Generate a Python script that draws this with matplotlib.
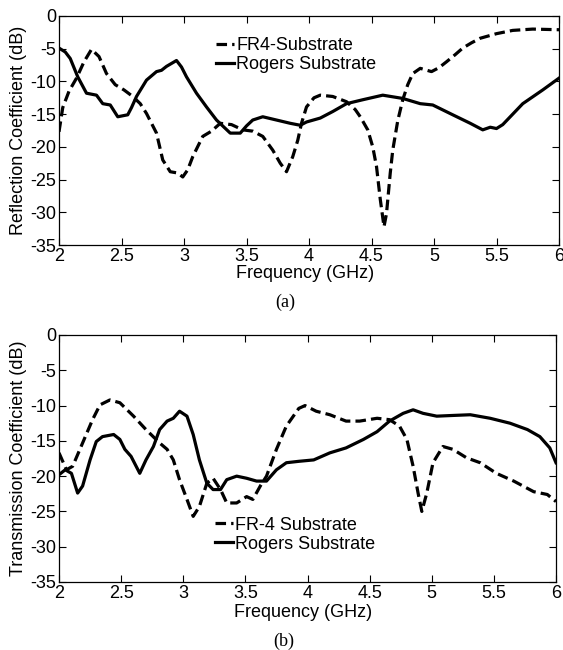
import matplotlib.pyplot as plt
import numpy as np

# (a) reflection coefficient
f_fr4_a = [2.00, 2.03, 2.08, 2.14, 2.20, 2.26, 2.32, 2.38, 2.45, 2.52, 2.59, 2.65, 2.70, 2.78,
           2.83, 2.89, 2.95, 2.99, 3.03, 3.07, 3.15, 3.22, 3.29, 3.38, 3.47, 3.55, 3.63, 3.71,
           3.77, 3.82, 3.87, 3.91, 3.94, 3.98, 4.04, 4.09, 4.19, 4.30, 4.37, 4.41, 4.47, 4.51,
           4.54, 4.57, 4.60, 4.62, 4.65, 4.67, 4.71, 4.75, 4.79, 4.83, 4.89, 4.98, 5.04, 5.10,
           5.17, 5.23, 5.30, 5.37, 5.50, 5.63, 5.79, 6.00]
r_fr4_a = [-17.7, -14.0, -11.5, -9.5, -7.0, -5.1, -6.2, -8.8, -10.5, -11.3, -12.3, -13.4, -14.9,
           -17.9, -22.0, -23.8, -24.0, -24.6, -23.5, -21.5, -18.4, -17.6, -16.4, -16.6, -17.4,
           -17.6, -18.4, -20.5, -22.5, -23.8, -21.5, -19.0, -16.4, -13.9, -12.5, -12.1, -12.3,
           -13.1, -14.3, -15.4, -17.4, -20.0, -23.0, -28.0, -32.2, -30.2, -24.0, -20.5, -16.0,
           -12.8, -10.5, -8.8, -8.0, -8.5, -7.9, -7.0, -5.9, -4.9, -4.1, -3.4, -2.7, -2.2, -2.0,
           -2.1]

f_rog_a = [2.00, 2.05, 2.09, 2.15, 2.22, 2.30, 2.35, 2.41, 2.47, 2.55, 2.58, 2.62, 2.70, 2.78,
           2.82, 2.86, 2.94, 2.98, 3.02, 3.10, 3.18, 3.26, 3.37, 3.45, 3.50, 3.55, 3.63, 3.74,
           3.85, 3.93, 3.98, 4.09, 4.19, 4.30, 4.43, 4.59, 4.75, 4.89, 4.99, 5.15, 5.29, 5.39,
           5.45, 5.50, 5.55, 5.61, 5.71, 5.87, 6.00]
r_rog_a = [-4.9, -5.5, -6.5, -9.3, -11.8, -12.1, -13.4, -13.6, -15.4, -15.1, -14.0, -12.3, -9.8,
           -8.5, -8.3, -7.7, -6.8, -7.8, -9.3, -11.8, -13.9, -15.9, -17.9, -17.9, -16.8, -15.9,
           -15.4, -15.9, -16.4, -16.7, -16.2, -15.6, -14.6, -13.4, -12.8, -12.1, -12.6, -13.4,
           -13.6, -15.1, -16.4, -17.4, -17.0, -17.2, -16.6, -15.4, -13.4, -11.3, -9.5]

# (b) transmission coefficient
f_fr4_b = [2.00, 2.06, 2.11, 2.19, 2.27, 2.33, 2.41, 2.49, 2.60, 2.70, 2.81, 2.87, 2.92, 2.97,
           3.03, 3.08, 3.13, 3.19, 3.24, 3.30, 3.35, 3.43, 3.51, 3.56, 3.62, 3.67, 3.75, 3.83,
           3.93, 3.98, 4.07, 4.18, 4.31, 4.42, 4.56, 4.66, 4.74, 4.80, 4.85, 4.89, 4.92, 4.96,
           5.01, 5.09, 5.17, 5.28, 5.39, 5.52, 5.66, 5.82, 5.93, 6.00]
t_fr4_b = [-16.7, -19.1, -18.6, -15.3, -12.0, -9.9, -9.2, -9.6, -11.5, -13.4, -15.3, -16.2, -17.7,
           -20.5, -23.3, -25.7, -24.3, -21.0, -20.3, -21.9, -23.8, -23.8, -22.9, -23.3, -21.4,
           -20.0, -16.2, -12.9, -10.4, -10.0, -10.8, -11.3, -12.2, -12.2, -11.8, -12.0, -12.9,
           -14.8, -18.6, -22.4, -25.0, -22.4, -18.1, -15.8, -16.2, -17.4, -18.1, -19.6, -20.7,
           -22.2, -22.6, -23.6]

f_rog_b = [2.00, 2.05, 2.10, 2.15, 2.19, 2.25, 2.30, 2.35, 2.44, 2.49, 2.53, 2.58, 2.65, 2.70,
           2.76, 2.81, 2.87, 2.92, 2.97, 3.03, 3.08, 3.13, 3.19, 3.24, 3.30, 3.35, 3.43, 3.51,
           3.59, 3.67, 3.75, 3.83, 3.93, 4.05, 4.18, 4.31, 4.45, 4.56, 4.66, 4.77, 4.85, 4.93,
           5.04, 5.17, 5.31, 5.47, 5.63, 5.77, 5.87, 5.95, 6.00]
t_rog_b = [-19.8, -19.1, -19.6, -22.4, -21.4, -17.7, -15.1, -14.4, -14.1, -14.8, -16.2, -17.2,
           -19.6, -17.7, -15.8, -13.4, -12.2, -11.8, -10.8, -11.5, -14.1, -17.7, -21.0, -21.9,
           -21.9, -20.5, -20.0, -20.3, -20.7, -20.7, -19.1, -18.1, -17.9, -17.7, -16.7, -16.0,
           -14.8, -13.7, -12.2, -11.1, -10.6, -11.1, -11.5, -11.4, -11.3, -11.8, -12.5, -13.4,
           -14.4, -16.0, -18.1]

xticks = [2, 2.5, 3, 3.5, 4, 4.5, 5, 5.5, 6]
xticklabels = ['2', '2.5', '3', '3.5', '4', '4.5', '5', '5.5', '6']
yticks = [-35, -30, -25, -20, -15, -10, -5, 0]

plt.rcParams['font.family'] = ['Liberation Sans', 'DejaVu Sans']
plt.rcParams['axes.unicode_minus'] = False

W, H = 563, 650
fig = plt.figure(figsize=(W / 100, H / 100), dpi=100)


def make_axes(left, top, right, bottom):
    return fig.add_axes([left / W, 1 - bottom / H, (right - left) / W, (bottom - top) / H])


def style(ax, ylabel, tag, tag_off, legend_names, legend_loc):
    ax.set_xlim(2, 6)
    ax.set_ylim(-35, 0)
    ax.set_xticks(xticks)
    ax.set_xticklabels(xticklabels)
    ax.set_yticks(yticks)
    ax.tick_params(direction='in', top=True, right=True, labelsize=13, length=5, width=0.8,
                   pad=2)
    for s in ax.spines.values():
        s.set_linewidth(0.9)
    ax.set_xlabel('Frequency (GHz)', fontsize=13)
    ax.set_ylabel(ylabel, fontsize=13, labelpad=2)
    ax.text(0.452, tag_off, tag, transform=ax.transAxes, ha='center', va='center',
            fontsize=13, family='Liberation Serif')
    ax.legend(legend_names, loc=legend_loc, frameon=False, fontsize=13, handlelength=1.0,
              handletextpad=0.1, labelspacing=0.1, borderaxespad=0.2)


ax1 = make_axes(59, 16, 559, 245)
ax1.plot(f_fr4_a, r_fr4_a, 'k--', lw=2.3, dashes=(3.3, 1.6))
ax1.plot(f_rog_a, r_rog_a, 'k-', lw=2.3)
style(ax1, 'Reflection Coefficient (dB)', '(a)', -57 / 229,
      ['FR4-Substrate', 'Rogers Substrate'], (0.3, 0.72))
ax1.xaxis.set_label_coords(0.492, -20 / 229)

ax2 = make_axes(59, 335, 556, 582)
ax2.plot(f_fr4_b, t_fr4_b, 'k--', lw=2.3, dashes=(3.3, 1.6))
ax2.plot(f_rog_b, t_rog_b, 'k-', lw=2.3)
style(ax2, 'Transmission Coefficient (dB)', '(b)', -59 / 247,
      ['FR-4 Substrate', 'Rogers Substrate'], (0.3, 0.09))
ax2.xaxis.set_label_coords(0.492, -22 / 247)

fig.savefig('out.png', dpi=100)
